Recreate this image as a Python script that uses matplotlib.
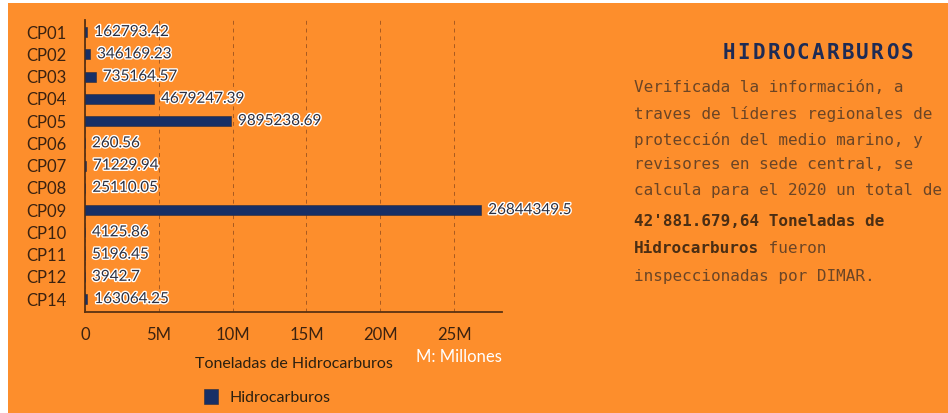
import matplotlib.pyplot as plt
from matplotlib.patches import Rectangle
import matplotlib.patheffects as pe

categories = ["CP01", "CP02", "CP03", "CP04", "CP05", "CP06", "CP07",
              "CP08", "CP09", "CP10", "CP11", "CP12", "CP14"]
toneladas = [162793.42, 346169.23, 735164.57, 4679247.39, 9895238.69, 260.56,
             71229.94, 25110.05, 26844349.5, 4125.86, 5196.45, 3942.7, 163064.25]
value_labels = ["162793.42", "346169.23", "735164.57", "4679247.39", "9895238.69",
                "260.56", "71229.94", "25110.05", "26844349.5", "4125.86",
                "5196.45", "3942.7", "163064.25"]
x_ticks = [0, 5e6, 10e6, 15e6, 20e6, 25e6]
x_tick_labels = ["0", "5M", "10M", "15M", "20M", "25M"]

body_lines = [
    [("Verificada la información, a", "normal")],
    [("traves de líderes regionales de", "normal")],
    [("protección del medio marino, y", "normal")],
    [("revisores en sede central, se", "normal")],
    [("calcula para el 2020 un total de", "normal")],
    [("42'881.679,64 Toneladas de", "bold")],
    [("Hidrocarburos", "bold"), (" fueron", "normal")],
    [("inspeccionadas por DIMAR.", "normal")],
]

ORANGE = "#fd8e2c"
NAVY = "#172f66"
BROWN = "#3b2210"

W, H = 948, 413
fig = plt.figure(figsize=(W / 100, H / 100), dpi=100, facecolor="white")
fig.patches.append(Rectangle((8 / W, 0), 1, 1 - 3 / H, transform=fig.transFigure,
                             facecolor=ORANGE, edgecolor="none", zorder=-10))

ax = fig.add_axes([85 / W, 1 - 312 / H, (502 - 85) / W, (312 - 20) / H])
ax.set_facecolor("none")
ypos = list(range(len(categories)))
ax.barh(ypos, toneladas, height=0.45, color=NAVY, edgecolor="#2a2a3a",
        linewidth=0.4, label="Hidrocarburos", zorder=3)
for y, v, lab in zip(ypos, toneladas, value_labels):
    ax.annotate(lab, (v, y), xytext=(5, 0), textcoords="offset points",
                va="center", ha="left", fontsize=11, family="Lato",
                color="#2b2f40", zorder=4,
                path_effects=[pe.withStroke(linewidth=2.0, foreground="white")])

ax.set_xlim(0, 28.25e6)
ax.set_ylim(12.58, -0.54)
ax.set_yticks(ypos)
ax.set_yticklabels(categories, family="Lato", fontsize=12, color=BROWN)
ax.set_xticks(x_ticks)
ax.set_xticklabels(x_tick_labels, family="Lato", fontsize=12, color=BROWN)
ax.tick_params(axis="both", length=0)
ax.tick_params(axis="y", pad=13)
ax.tick_params(axis="x", pad=11)
ax.grid(axis="x", color="#a85a20", linestyle=(0, (4, 4)), linewidth=0.7, zorder=0)
for side in ("top", "right"):
    ax.spines[side].set_visible(False)
for side in ("left", "bottom"):
    ax.spines[side].set_color("#5a3212")
    ax.spines[side].set_linewidth(1.3)
ax.set_xlabel("Toneladas de Hidrocarburos", family="Lato", fontsize=11.5,
              color="#2b2010", labelpad=10)

fig.text(459 / W, 1 - 357 / H, "M: Millones", family="Lato", fontsize=12,
         color="white", ha="center", va="center")

handles, labels = ax.get_legend_handles_labels()
fig.legend(handles, labels, loc="center", bbox_to_anchor=(267 / W, 1 - 397 / H),
           frameon=False, handlelength=0.9, handleheight=1.1, handletextpad=0.7,
           prop={"family": "Lato", "size": 11.5}, labelcolor="#2b2010")

# title with a little letter spacing
title = "HIDROCARBUROS"
step = 14.8
x0 = 818 - step * (len(title) - 1) / 2
for i, ch in enumerate(title):
    fig.text((x0 + i * step) / W, 1 - 53 / H, ch, family="DejaVu Sans Mono",
             fontsize=15, fontweight="bold", color="#1e2b55",
             ha="center", va="center")

fs = 11.5
char_w = 0.602 * fs * 100 / 72
line_y = [88, 114, 140, 165, 190, 222, 249, 276]
for parts, y in zip(body_lines, line_y):
    x = 634
    for txt, weight in parts:
        fig.text(x / W, 1 - y / H, txt, family="DejaVu Sans Mono", fontsize=fs,
                 fontweight=weight, color="#4a2e14" if weight == "bold" else "#6b4526",
                 ha="left", va="center")
        x += len(txt) * char_w

fig.savefig("out.png", dpi=100, facecolor=fig.get_facecolor())
